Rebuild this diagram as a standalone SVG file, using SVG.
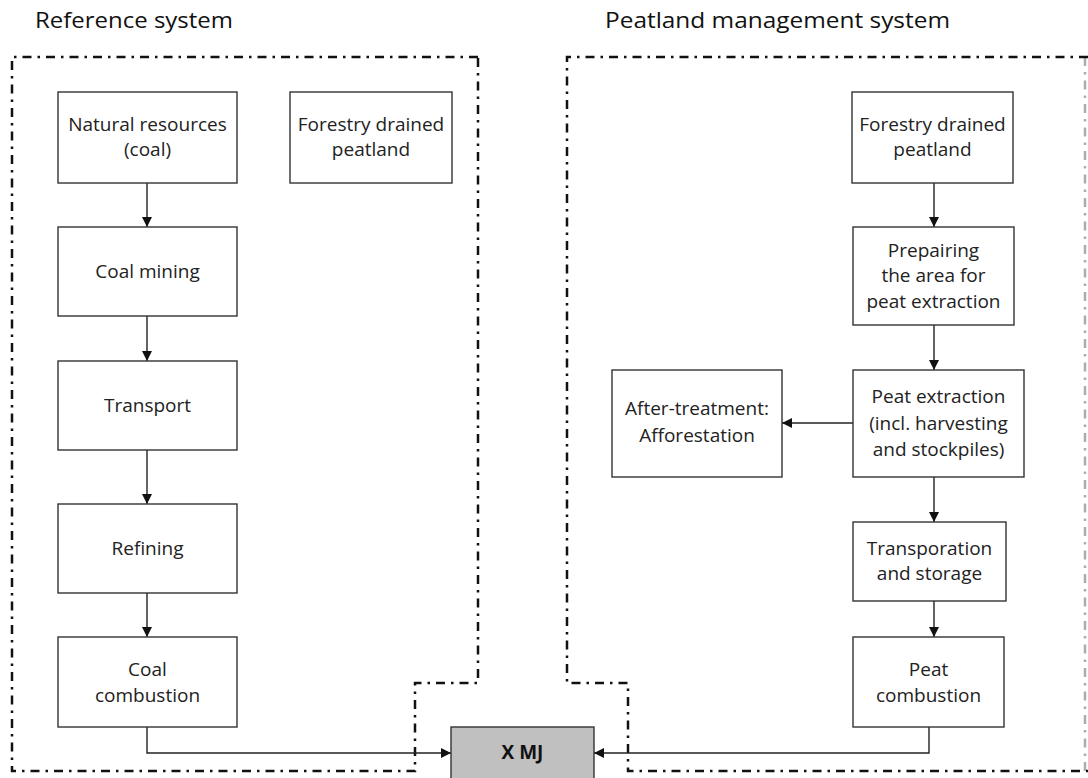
<svg xmlns="http://www.w3.org/2000/svg" width="1088" height="778" viewBox="0 0 1088 778">
<style>
.bx{fill:#fff;stroke:#333;stroke-width:1.4}
.t{font-family:"Open Sans","Liberation Sans",sans-serif;font-size:19px;fill:#222;text-anchor:middle}
.title{font-family:"Open Sans","Liberation Sans",sans-serif;font-size:21px;fill:#111}
.bd{fill:none;stroke:#111;stroke-width:2.5;stroke-dasharray:9 6 2.5 6}
.c{fill:none;stroke:#222;stroke-width:1.4}
</style>
<defs>
<marker id="ah" viewBox="0 0 10 10" refX="10" refY="5" markerWidth="10" markerHeight="10" markerUnits="userSpaceOnUse" orient="auto">
<path d="M0,0 L10,5 L0,10 Z" fill="#111"/>
</marker>
</defs>
<rect width="1088" height="778" fill="#fff"/>
<text class="title" x="35" y="28" textLength="198" lengthAdjust="spacingAndGlyphs">Reference system</text>
<text class="title" x="605" y="28" textLength="345" lengthAdjust="spacingAndGlyphs">Peatland management system</text>
<g id="boundaries">
<path class="bd" d="M478,57 L12,57 L12,771 L415,771 L415,683 L478,683 Z"/>
<path class="bd" d="M1088,57 L567,57 L567,683 L628,683 L628,771 L1088,771"/>
<path class="bd" d="M1085,57 L1085,771" style="opacity:0.35"/>
</g>
<g id="connectors">
<path class="c" d="M147,183 V227" marker-end="url(#ah)"/>
<path class="c" d="M147,316 V361" marker-end="url(#ah)"/>
<path class="c" d="M147,450 V504" marker-end="url(#ah)"/>
<path class="c" d="M147,593 V637" marker-end="url(#ah)"/>
<path class="c" d="M147,727 V753 H451" marker-end="url(#ah)"/>
<path class="c" d="M934,183 V227" marker-end="url(#ah)"/>
<path class="c" d="M934,325 V370" marker-end="url(#ah)"/>
<path class="c" d="M853,423 H782" marker-end="url(#ah)"/>
<path class="c" d="M934,477 V522" marker-end="url(#ah)"/>
<path class="c" d="M934,601 V637" marker-end="url(#ah)"/>
<path class="c" d="M929,727 V753 H594" marker-end="url(#ah)"/>
</g>
<g id="natural-resources"><rect class="bx" x="58" y="92" width="179" height="91"/><text class="t" x="147.5" y="131">Natural resources</text><text class="t" x="147.5" y="156">(coal)</text></g>
<g id="forestry-left"><rect class="bx" x="290" y="92" width="162" height="91"/><text class="t" x="371" y="131">Forestry drained</text><text class="t" x="371" y="156">peatland</text></g>
<g id="coal-mining"><rect class="bx" x="58" y="227" width="179" height="89"/><text class="t" x="147.5" y="278">Coal mining</text></g>
<g id="transport"><rect class="bx" x="58" y="361" width="179" height="89"/><text class="t" x="147.5" y="412">Transport</text></g>
<g id="refining"><rect class="bx" x="58" y="504" width="179" height="89"/><text class="t" x="147.5" y="555">Refining</text></g>
<g id="coal-combustion"><rect class="bx" x="58" y="637" width="179" height="90"/><text class="t" x="147.5" y="676">Coal</text><text class="t" x="147.5" y="702">combustion</text></g>
<g id="xmj"><rect x="451" y="727" width="143" height="56" fill="#c0c0c0" stroke="#333" stroke-width="1.4"/><text x="522.5" y="759" style="font-family:'Open Sans','Liberation Sans',sans-serif;font-size:19px;font-weight:bold;fill:#111;text-anchor:middle">X MJ</text></g>
<g id="forestry-right"><rect class="bx" x="852" y="92" width="161" height="91"/><text class="t" x="932.5" y="131">Forestry drained</text><text class="t" x="932.5" y="156">peatland</text></g>
<g id="preparing"><rect class="bx" x="853" y="227" width="161" height="98"/><text class="t" x="933.5" y="257">Prepairing</text><text class="t" x="933.5" y="282">the area for</text><text class="t" x="933.5" y="308">peat extraction</text></g>
<g id="peat-extraction"><rect class="bx" x="853" y="370" width="171" height="107"/><text class="t" x="938.5" y="403">Peat extraction</text><text class="t" x="938.5" y="430">(incl. harvesting</text><text class="t" x="938.5" y="456">and stockpiles)</text></g>
<g id="after-treatment"><rect class="bx" x="612" y="370" width="170" height="107"/><text class="t" x="697" y="415">After-treatment:</text><text class="t" x="697" y="442">Afforestation</text></g>
<g id="transportation"><rect class="bx" x="853" y="522" width="153" height="79"/><text class="t" x="929.5" y="555">Transporation</text><text class="t" x="929.5" y="580">and storage</text></g>
<g id="peat-combustion"><rect class="bx" x="853" y="637" width="151" height="90"/><text class="t" x="928.5" y="676">Peat</text><text class="t" x="928.5" y="702">combustion</text></g>
</svg>
